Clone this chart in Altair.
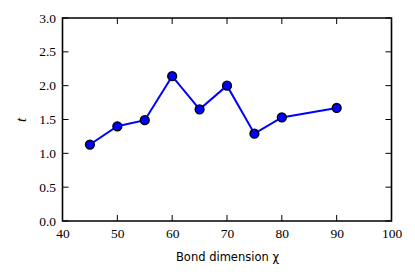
import altair as alt
import pandas as pd

chi = [45, 50, 55, 60, 65, 70, 75, 80, 90]
t = [1.13, 1.40, 1.49, 2.14, 1.65, 2.00, 1.29, 1.53, 1.67]
x_ticks = [40, 50, 60, 70, 80, 90, 100]
y_ticks = [0.0, 0.5, 1.0, 1.5, 2.0, 2.5, 3.0]

W, H = 329, 203
TL = 6

df = pd.DataFrame({"chi": chi, "t": t})
xt = pd.DataFrame({"v": x_ticks})
yt = pd.DataFrame({"v": y_ticks})

xscale = alt.Scale(domain=[40, 100], nice=False, zero=False)
yscale = alt.Scale(domain=[0, 3], nice=False, zero=False)

SERIF = "Liberation Serif"
xaxis = alt.Axis(values=x_ticks, format=".0f", title="Bond dimension χ",
                 titleFont="DejaVu Sans", titleFontSize=11.5, titleFontWeight="normal",
                 labelPadding=5, titlePadding=12, labelFlush=False)
yaxis = alt.Axis(values=y_ticks, format=".1f", title="t",
                 titleFont=SERIF, titleFontStyle="italic", titleFontSize=15,
                 titleFontWeight="normal", labelPadding=7, titlePadding=10,
                 labelFlush=False)

base = alt.Chart(df)
line = base.mark_line(color="#0000ff", strokeWidth=2).encode(
    x=alt.X("chi:Q", scale=xscale, axis=xaxis),
    y=alt.Y("t:Q", scale=yscale, axis=yaxis),
)
pts = base.mark_point(filled=True, fill="#0000ff", stroke="black", strokeWidth=1.3,
                      size=80, opacity=1).encode(
    x=alt.X("chi:Q", scale=xscale, axis=xaxis),
    y=alt.Y("t:Q", scale=yscale, axis=yaxis),
)

tick_style = dict(color="black", strokeWidth=1)
bottom = alt.Chart(xt).mark_rule(**tick_style).encode(
    x=alt.X("v:Q", scale=xscale, axis=xaxis), y=alt.value(H), y2=alt.value(H - TL))
top = alt.Chart(xt).mark_rule(**tick_style).encode(
    x=alt.X("v:Q", scale=xscale, axis=xaxis), y=alt.value(0), y2=alt.value(TL))
left = alt.Chart(yt).mark_rule(**tick_style).encode(
    y=alt.Y("v:Q", scale=yscale, axis=yaxis), x=alt.value(0), x2=alt.value(TL))
right = alt.Chart(yt).mark_rule(**tick_style).encode(
    y=alt.Y("v:Q", scale=yscale, axis=yaxis), x=alt.value(W), x2=alt.value(W - TL))

chart = alt.layer(bottom, top, left, right, line, pts).properties(
    width=W, height=H,
    background="white",
    autosize=alt.AutoSizeParams(type="none"),
    padding={"left": 54.5, "top": 10, "right": 10, "bottom": 50},
).configure_view(stroke="black", strokeWidth=1.6).configure_axis(
    labelFont=SERIF, labelFontSize=13.5, labelColor="black",
    titleColor="black", tickSize=0, domain=False, grid=False,
    labelFlush=False, labelOverlap=False,
)

chart.save("out.html", embed_options={"renderer": "svg", "actions": False})
